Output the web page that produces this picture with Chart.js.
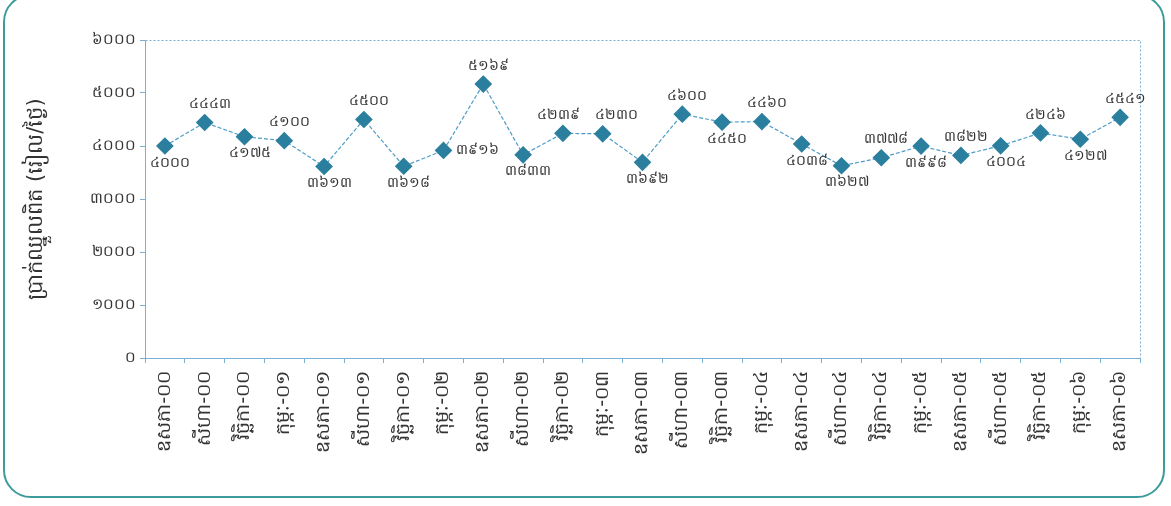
<!DOCTYPE html>
<html>
<head>
<meta charset="utf-8">
<script src="https://cdn.jsdelivr.net/npm/chart.js@4"></script>
<style>
    html, body { margin: 0; padding: 0; background: #fff; }
    #wrap { position: relative; width: 1171px; height: 506px; overflow: hidden; }
    #card {
        position: absolute; left: 3px; top: -6px; width: 1162px; height: 504px;
        border: 2px solid #3d9b9b; border-radius: 28px; box-sizing: border-box;
    }
    #box { position: absolute; left: 0; top: 0; width: 1171px; height: 506px; }
</style>
</head>
<body>
<div id="wrap">
    <div id="card"></div>
    <div id="box"><canvas id="wageChart" width="1171" height="506"></canvas></div>
</div>
<script>
// Quarterly periods (Khmer month-year)
const periods = [
    'ឧសភា-០០', 'សីហា-០០', 'វិច្ឆិកា-០០',
    'កុម្ភៈ-០១', 'ឧសភា-០១', 'សីហា-០១', 'វិច្ឆិកា-០១',
    'កុម្ភៈ-០២', 'ឧសភា-០២', 'សីហា-០២', 'វិច្ឆិកា-០២',
    'កុម្ភៈ-០៣', 'ឧសភា-០៣', 'សីហា-០៣', 'វិច្ឆិកា-០៣',
    'កុម្ភៈ-០៤', 'ឧសភា-០៤', 'សីហា-០៤', 'វិច្ឆិកា-០៤',
    'កុម្ភៈ-០៥', 'ឧសភា-០៥', 'សីហា-០៥', 'វិច្ឆិកា-០៥',
    'កុម្ភៈ-០៦', 'ឧសភា-០៦'
];

// Wage values
const wages = [
    4000, 4443, 4175, 4100, 3613, 4500, 3618, 3916, 5169, 3833,
    4239, 4230, 3692, 4600, 4450, 4460, 4038, 3627, 3778, 3998,
    3822, 4004, 4246, 4127, 4541
];

// Where each value label sits relative to its point
const labelSide = [
    'below', 'above', 'below', 'above', 'below', 'above', 'below', 'right', 'above', 'below',
    'above', 'above', 'below', 'above', 'below', 'above', 'below', 'below', 'above', 'below',
    'above', 'below', 'above', 'below', 'above'
];

const yTicks = [0, 1000, 2000, 3000, 4000, 5000, 6000];
const yTitle = 'ប្រាក់ឈ្នួលពិត (រៀល/ថ្ងៃ)';

const KH_DIGITS = '០១២៣៤៥៦៧៨៩';
function toKhmer(n) {
    return String(n).replace(/[0-9]/g, d => KH_DIGITS[+d]);
}

const FONT = "'DejaVu Sans', 'Noto Sans', sans-serif";
const AXIS_BLUE = '#7ab0d4';

// dotted frame around the plot area
const plotFrame = {
    id: 'plotFrame',
    beforeDatasetsDraw(chart) {
        const { ctx, chartArea: a } = chart;
        ctx.save();
        ctx.strokeStyle = AXIS_BLUE;
        ctx.lineWidth = 1;
        ctx.setLineDash([2, 2]);
        ctx.strokeRect(a.left + 0.5, a.top + 0.5, a.right - a.left, a.bottom - a.top);
        ctx.restore();
    }
};

// value labels next to each marker
const valueLabels = {
    id: 'valueLabels',
    afterDatasetsDraw(chart) {
        const { ctx } = chart;
        const meta = chart.getDatasetMeta(0);
        ctx.save();
        ctx.font = '14px ' + FONT;
        ctx.fillStyle = '#333';
        meta.data.forEach((pt, i) => {
            const txt = toKhmer(wages[i]);
            const side = labelSide[i];
            // the two neighbouring labels above Nov-02 / Feb-03 are pushed apart
            let nudge = i === 10 ? -4 : i === 11 ? 14 : 5;
            if (side === 'above') {
                ctx.textAlign = 'center';
                ctx.textBaseline = 'bottom';
                ctx.fillText(txt, pt.x + nudge, pt.y - 11);
            } else if (side === 'below') {
                ctx.textAlign = 'center';
                ctx.textBaseline = 'top';
                ctx.fillText(txt, pt.x + nudge, pt.y + 10);
            } else {
                ctx.textAlign = 'left';
                ctx.textBaseline = 'middle';
                ctx.fillText(txt, pt.x + 12, pt.y);
            }
        });
        ctx.restore();
    }
};

const ctx = document.getElementById('wageChart').getContext('2d');
new Chart(ctx, {
    type: 'line',
    data: {
        labels: periods,
        datasets: [{
            data: wages,
            borderColor: '#4f9cc8',
            borderWidth: 1.2,
            borderDash: [4, 2],
            tension: 0,
            fill: false,
            pointStyle: 'rectRot',
            pointRadius: 8,
            pointHoverRadius: 8,
            pointBackgroundColor: '#2b7f9e',
            pointBorderColor: '#2b7f9e'
        }]
    },
    options: {
        responsive: false,
        animation: false,
        layout: { padding: { top: 40, right: 31, left: 20, bottom: 0 } },
        scales: {
            x: {
                offset: true,
                afterFit: axis => { axis.height = 148; },
                grid: { offset: true, drawOnChartArea: false, drawTicks: true, tickLength: 5, color: AXIS_BLUE },
                border: { display: true, color: AXIS_BLUE, dash: [2, 2] },
                ticks: {
                    autoSkip: false, maxRotation: 90, minRotation: 90,
                    color: '#333', font: { family: FONT, size: 19 }, padding: 8
                }
            },
            y: {
                min: 0, max: 6000,
                afterFit: axis => { axis.width = 125; },
                afterBuildTicks: axis => { axis.ticks = yTicks.map(v => ({ value: v })); },
                grid: { drawOnChartArea: false, drawTicks: true, tickLength: 5, color: AXIS_BLUE },
                border: { display: true, color: AXIS_BLUE, dash: [2, 2] },
                ticks: {
                    color: '#333', font: { family: FONT, size: 15 }, padding: 4,
                    callback: v => toKhmer(v)
                },
                title: {
                    display: true, text: yTitle, color: '#333',
                    font: { family: FONT, size: 21 }, padding: { bottom: 12 }
                }
            }
        },
        plugins: {
            legend: { display: false },
            tooltip: { enabled: false }
        }
    },
    plugins: [plotFrame, valueLabels]
});
</script>
</body>
</html>
